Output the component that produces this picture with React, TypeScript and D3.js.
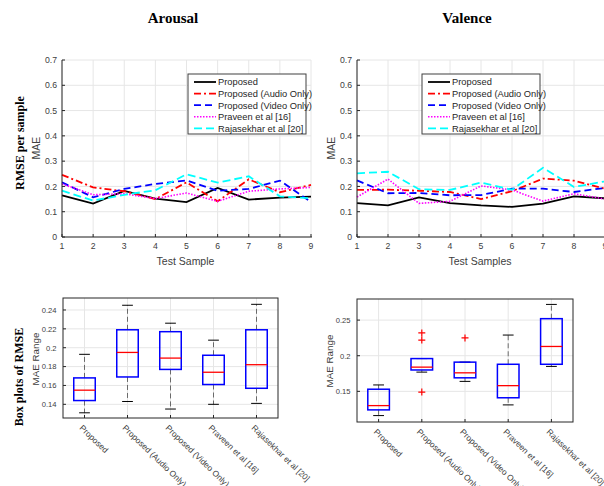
import React, { useEffect, useRef } from 'react';
import * as d3 from 'd3';

// sample index for the per-sample plots
const testSamples = [1, 2, 3, 4, 5, 6, 7, 8, 9];
const methodNames = [
  'Proposed',
  'Proposed (Audio Only)',
  'Proposed (Video Only)',
  'Praveen et al [16]',
  'Rajasekhar et al [20]',
];
const lineTicksY = [0, 0.1, 0.2, 0.3, 0.4, 0.5, 0.6, 0.7];

// Arousal MAE per test sample
const arousalProposed = [0.165, 0.132, 0.182, 0.152, 0.138, 0.194, 0.148, 0.156, 0.160];
const arousalAudio = [0.246, 0.196, 0.181, 0.150, 0.216, 0.141, 0.228, 0.177, 0.206];
const arousalVideo = [0.216, 0.157, 0.190, 0.210, 0.224, 0.183, 0.190, 0.223, 0.139];
const arousalPraveen = [0.210, 0.167, 0.171, 0.152, 0.174, 0.141, 0.181, 0.190, 0.196];
const arousalRajasekhar = [0.183, 0.144, 0.167, 0.185, 0.248, 0.215, 0.240, 0.161, 0.153];

// Valence MAE per test sample
const valenceProposed = [0.134, 0.125, 0.157, 0.134, 0.125, 0.119, 0.132, 0.161, 0.153];
const valenceAudio = [0.186, 0.187, 0.183, 0.178, 0.150, 0.181, 0.231, 0.223, 0.191];
const valenceVideo = [0.224, 0.173, 0.174, 0.165, 0.166, 0.191, 0.191, 0.178, 0.194];
const valencePraveen = [0.158, 0.229, 0.133, 0.141, 0.202, 0.186, 0.142, 0.171, 0.150];
const valenceRajasekhar = [0.252, 0.258, 0.189, 0.186, 0.215, 0.187, 0.274, 0.198, 0.220];

// box stats: [lower whisker, q1, median, q3, upper whisker]
const arousalBoxes = [
  [0.131, 0.144, 0.155, 0.168, 0.193],
  [0.143, 0.169, 0.195, 0.219, 0.245],
  [0.135, 0.177, 0.189, 0.217, 0.226],
  [0.140, 0.161, 0.174, 0.192, 0.208],
  [0.141, 0.157, 0.182, 0.219, 0.246],
];
const arousalOutliers: number[][] = [[], [], [], [], []];
const arousalBoxTicks = [0.14, 0.16, 0.18, 0.2, 0.22, 0.24];

const valenceBoxes = [
  [0.116, 0.124, 0.130, 0.153, 0.159],
  [0.177, 0.180, 0.184, 0.196, 0.196],
  [0.164, 0.169, 0.176, 0.191, 0.191],
  [0.131, 0.141, 0.158, 0.188, 0.229],
  [0.185, 0.188, 0.213, 0.252, 0.272],
];
const valenceOutliers = [[], [0.232, 0.222, 0.149], [0.225], [], []];
const valenceBoxTicks = [0.15, 0.2, 0.25];

const seriesStyle = [
  { color: '#000000', dash: null, width: 1.8 },
  { color: '#ff0000', dash: '7,3,2,3', width: 1.8 },
  { color: '#0000ff', dash: '7,4', width: 1.8 },
  { color: '#ff00ff', dash: '1.5,1.5', width: 1.6 },
  { color: '#00ffff', dash: '8,4', width: 1.8 },
];

const SANS = '"Liberation Sans", Arial, sans-serif';
const SERIF = '"Liberation Serif", "Times New Roman", serif';
const AXIS = '#262626';
const TICK_TXT = '#404040';
const GRID = '#e6e6e6';

function drawLinePanel(svg, opts) {
  const { x0, x1, yTop, yBottom, series, xLabel, legendX, legendY } = opts;
  const x = d3.scaleLinear().domain([1, 9]).range([x0, x1]);
  const y = d3.scaleLinear().domain([0, 0.7]).range([yBottom, yTop]);
  const g = svg.append('g');

  // grid
  g.selectAll('.gx').data(testSamples).enter().append('line')
    .attr('x1', d => x(d)).attr('x2', d => x(d))
    .attr('y1', yTop).attr('y2', yBottom)
    .attr('stroke', GRID).attr('stroke-width', 1);
  g.selectAll('.gy').data(lineTicksY).enter().append('line')
    .attr('x1', x0).attr('x2', x1)
    .attr('y1', d => y(d)).attr('y2', d => y(d))
    .attr('stroke', GRID).attr('stroke-width', 1);

  // series
  const line = d3.line<number>().x((d, i) => x(testSamples[i])).y(d => y(d));
  series.forEach((vals, i) => {
    const st = seriesStyle[i];
    g.append('path')
      .attr('d', line(vals))
      .attr('fill', 'none')
      .attr('stroke', st.color)
      .attr('stroke-width', st.width)
      .attr('stroke-dasharray', st.dash);
  });

  // axes lines + inward ticks
  g.append('line').attr('x1', x0).attr('x2', x0).attr('y1', yTop).attr('y2', yBottom)
    .attr('stroke', AXIS).attr('stroke-width', 1);
  g.append('line').attr('x1', x0).attr('x2', x1 + 1).attr('y1', yBottom).attr('y2', yBottom)
    .attr('stroke', AXIS).attr('stroke-width', 1);
  g.selectAll('.ty').data(lineTicksY).enter().append('line')
    .attr('x1', x0).attr('x2', x0 + 3).attr('y1', d => y(d)).attr('y2', d => y(d))
    .attr('stroke', AXIS);
  g.selectAll('.tx').data(testSamples).enter().append('line')
    .attr('x1', d => x(d)).attr('x2', d => x(d)).attr('y1', yBottom).attr('y2', yBottom - 3)
    .attr('stroke', AXIS);

  g.selectAll('.ly').data(lineTicksY).enter().append('text')
    .attr('x', x0 - 5).attr('y', d => y(d) + 3.1)
    .attr('text-anchor', 'end')
    .style('font-family', SANS).style('font-size', '8.7px').attr('fill', TICK_TXT)
    .text(d => d3.format('.1~f')(d));
  g.selectAll('.lx').data(testSamples).enter().append('text')
    .attr('x', d => x(d)).attr('y', yBottom + 12)
    .attr('text-anchor', 'middle')
    .style('font-family', SANS).style('font-size', '8.7px').attr('fill', TICK_TXT)
    .text(d => d);

  g.append('text')
    .attr('x', (x0 + x1) / 2 - 1).attr('y', yBottom + 28)
    .attr('text-anchor', 'middle')
    .style('font-family', SANS).style('font-size', '10.5px').attr('fill', TICK_TXT)
    .text(xLabel);

  // legend
  const lg = g.append('g').attr('transform', `translate(${legendX},${legendY})`);
  lg.append('rect').attr('width', 118).attr('height', 60)
    .attr('fill', '#fff').attr('stroke', '#404040').attr('stroke-width', 1);
  methodNames.forEach((name, i) => {
    const st = seriesStyle[i];
    const ry = 8 + i * 11.6;
    lg.append('line').attr('x1', 6).attr('x2', 28).attr('y1', ry).attr('y2', ry)
      .attr('stroke', st.color).attr('stroke-width', st.width)
      .attr('stroke-dasharray', st.dash);
    lg.append('text').attr('x', 30).attr('y', ry + 3.3)
      .style('font-family', SANS).style('font-size', '9.3px').attr('fill', '#262626')
      .text(name);
  });
}

function drawBoxPanel(svg, opts) {
  const { x0, x1, yTop, yBottom, domain, ticks, boxes, outliers, fmt } = opts;
  const x = d3.scaleBand().domain(methodNames).range([x0, x1]);
  const bw = x.bandwidth();
  const cx = (n) => x(n) + bw / 2;
  const y = d3.scaleLinear().domain(domain).range([yBottom, yTop]);
  const g = svg.append('g');

  g.selectAll('.gx').data(methodNames).enter().append('line')
    .attr('x1', d => cx(d)).attr('x2', d => cx(d)).attr('y1', yTop).attr('y2', yBottom)
    .attr('stroke', GRID);
  g.selectAll('.gy').data(ticks).enter().append('line')
    .attr('x1', x0).attr('x2', x1).attr('y1', d => y(d)).attr('y2', d => y(d))
    .attr('stroke', GRID);

  boxes.forEach((b, i) => {
    const c = cx(methodNames[i]);
    const [lo, q1, med, q3, hi] = b;
    // whiskers
    g.append('line').attr('x1', c).attr('x2', c).attr('y1', y(q3)).attr('y2', y(hi))
      .attr('stroke', '#000').attr('stroke-width', 0.9).attr('stroke-dasharray', '5,3')
      .attr('opacity', 0.6);
    g.append('line').attr('x1', c).attr('x2', c).attr('y1', y(q1)).attr('y2', y(lo))
      .attr('stroke', '#000').attr('stroke-width', 0.9).attr('stroke-dasharray', '5,3')
      .attr('opacity', 0.6);
    [lo, hi].forEach(v => {
      g.append('line').attr('x1', c - bw * 0.125).attr('x2', c + bw * 0.125)
        .attr('y1', y(v)).attr('y2', y(v)).attr('stroke', '#000').attr('stroke-width', 1);
    });
    // box
    g.append('rect').attr('x', c - bw * 0.25).attr('width', bw * 0.5)
      .attr('y', y(q3)).attr('height', y(q1) - y(q3))
      .attr('fill', 'none').attr('stroke', '#0000ff').attr('stroke-width', 1.5);
    g.append('line').attr('x1', c - bw * 0.25).attr('x2', c + bw * 0.25)
      .attr('y1', y(med)).attr('y2', y(med)).attr('stroke', '#ff0000').attr('stroke-width', 1.3);
    outliers[i].forEach(v => {
      g.append('path')
        .attr('d', `M${c - 3.5},${y(v)}H${c + 3.5}M${c},${y(v) - 3.5}V${y(v) + 3.5}`)
        .attr('stroke', '#ff0000').attr('stroke-width', 1.2);
    });
  });

  g.append('rect').attr('x', x0).attr('y', yTop).attr('width', x1 - x0).attr('height', yBottom - yTop)
    .attr('fill', 'none').attr('stroke', AXIS).attr('stroke-width', 1);
  g.selectAll('.ty').data(ticks).enter().append('line')
    .attr('x1', x0).attr('x2', x0 + 3).attr('y1', d => y(d)).attr('y2', d => y(d))
    .attr('stroke', AXIS);
  g.selectAll('.tx').data(methodNames).enter().append('line')
    .attr('x1', d => cx(d)).attr('x2', d => cx(d)).attr('y1', yBottom).attr('y2', yBottom - 3)
    .attr('stroke', AXIS);

  g.selectAll('.ly').data(ticks).enter().append('text')
    .attr('x', x0 - 6.5).attr('y', d => y(d) + 2.8)
    .attr('text-anchor', 'end')
    .style('font-family', SANS).style('font-size', '7.6px').attr('fill', TICK_TXT)
    .text(d => fmt(d));
  g.selectAll('.lx').data(methodNames).enter().append('text')
    .attr('transform', d => `translate(${cx(d) - 1},${yBottom + 6}) rotate(44)`)
    .attr('dominant-baseline', 'hanging')
    .style('font-family', SANS).style('font-size', '8.4px').attr('fill', TICK_TXT)
    .text(d => d);

  return g;
}

function App() {
  const svgRef = useRef(null);

  useEffect(() => {
    const svg = d3.select(svgRef.current);
    svg.selectAll('*').remove();

    drawLinePanel(svg, {
      x0: 62, x1: 311, yTop: 60, yBottom: 237,
      series: [arousalProposed, arousalAudio, arousalVideo, arousalPraveen, arousalRajasekhar],
      xLabel: 'Test Sample', legendX: 188, legendY: 74,
    });
    drawLinePanel(svg, {
      x0: 357, x1: 605, yTop: 60, yBottom: 237,
      series: [valenceProposed, valenceAudio, valenceVideo, valencePraveen, valenceRajasekhar],
      xLabel: 'Test Samples', legendX: 422, legendY: 74,
    });

    drawBoxPanel(svg, {
      x0: 63, x1: 278, yTop: 298, yBottom: 418,
      domain: [0.1255, 0.2527], ticks: arousalBoxTicks,
      boxes: arousalBoxes, outliers: arousalOutliers, fmt: d3.format('.2~f'),
    });
    drawBoxPanel(svg, {
      x0: 357, x1: 573, yTop: 299, yBottom: 422,
      domain: [0.107, 0.2796], ticks: valenceBoxTicks,
      boxes: valenceBoxes, outliers: valenceOutliers, fmt: d3.format('.2~f'),
    });

    // titles and side labels
    const txt = (x, y, s, font, size, weight, rot, color) => {
      svg.append('text')
        .attr('transform', `translate(${x},${y})${rot ? ' rotate(-90)' : ''}`)
        .attr('text-anchor', 'middle')
        .style('font-family', font).style('font-size', size).style('font-weight', weight)
        .attr('fill', color)
        .text(s);
    };
    txt(173, 23, 'Arousal', SERIF, '15px', 'bold', false, '#000');
    txt(467, 23, 'Valence', SERIF, '15px', 'bold', false, '#000');
    txt(24, 143, 'RMSE per sample', SERIF, '12px', 'bold', true, '#000');
    txt(23, 377, 'Box plots of RMSE', SERIF, '12px', 'bold', true, '#000');
    txt(40, 148, 'MAE', SANS, '10.5px', 'normal', true, TICK_TXT);
    txt(335, 148, 'MAE', SANS, '10.5px', 'normal', true, TICK_TXT);
    txt(38.5, 359, 'MAE Range', SANS, '9.8px', 'normal', true, TICK_TXT);
    txt(332.5, 361, 'MAE Range', SANS, '9.8px', 'normal', true, TICK_TXT);
  }, []);

  return (
    <svg ref={svgRef} width={604} height={486}
      style={{ position: 'absolute', left: 0, top: 0, background: '#fff' }} />
  );
}

export default App;
